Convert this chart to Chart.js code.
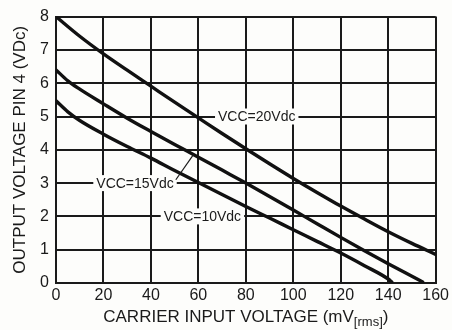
<!DOCTYPE html>
<html>
<head>
<meta charset="utf-8">
<script src="https://cdn.jsdelivr.net/npm/chart.js@4/dist/chart.umd.min.js"></script>
<style>
  html, body { margin: 0; padding: 0; background: #fdfdfb; }
  #wrap { width: 452px; height: 330px; }
</style>
</head>
<body>
<div id="wrap"><canvas id="c" width="452" height="330"></canvas></div>
<script>
// Carrier input voltage (mV rms) and output voltage at pin 4 (Vdc)
const xTicks = [0, 20, 40, 60, 80, 100, 120, 140, 160];
const yTicks = [0, 1, 2, 3, 4, 5, 6, 7, 8];

const vcc20X = [0, 10, 20, 30, 40, 50, 60, 70, 80, 90, 100, 110, 120, 130, 140, 150, 160];
const vcc20Y = [8.0, 7.41, 6.88, 6.39, 5.91, 5.43, 4.96, 4.49, 4.03, 3.58, 3.14, 2.72, 2.31, 1.92, 1.54, 1.19, 0.86];

const vcc15X = [0, 5, 10, 20, 30, 40, 50, 60, 70, 80, 90, 100, 110, 120, 130, 140, 150, 154.5];
const vcc15Y = [6.4, 6.07, 5.82, 5.38, 4.95, 4.55, 4.16, 3.78, 3.39, 3.0, 2.6, 2.19, 1.78, 1.37, 0.97, 0.58, 0.2, 0.03];

const vcc10X = [0, 5, 10, 20, 30, 40, 50, 60, 70, 80, 90, 100, 110, 120, 130, 140, 141.5];
const vcc10Y = [5.47, 5.14, 4.88, 4.47, 4.1, 3.75, 3.38, 3.02, 2.66, 2.3, 1.95, 1.6, 1.25, 0.9, 0.52, 0.12, 0.03];

const seriesNames = ['VCC=20Vdc', 'VCC=15Vdc', 'VCC=10Vdc'];

const toPoints = (xs, ys) => xs.map((x, i) => ({ x: x, y: ys[i] }));

const INK = '#1a1a1a';
const FONT = '"Liberation Sans", Arial, Helvetica, sans-serif';

// Curve captions, anchored in data coordinates on a grid line
const captions = [
  { text: seriesNames[0], x: 84.6, y: 5 },
  { text: seriesNames[1], x: 33.3, y: 3, leader: [50.5, 3.1, 58.0, 3.86] },
  { text: seriesNames[2], x: 61.7, y: 2 }
];

const annotate = {
  id: 'annotate',
  afterDatasetsDraw(chart) {
    const ctx = chart.ctx;
    const xs = chart.scales.x, ys = chart.scales.y;
    const area = chart.chartArea;
    ctx.save();
    // captions with white boxes that interrupt the grid
    ctx.font = '14px ' + FONT;
    ctx.textAlign = 'center';
    ctx.textBaseline = 'middle';
    captions.forEach(c => {
      const px = xs.getPixelForValue(c.x);
      const py = ys.getPixelForValue(c.y);
      const w = ctx.measureText(c.text).width;
      ctx.fillStyle = '#fdfdfb';
      ctx.fillRect(px - w / 2 - 3, py - 8, w + 6, 16);
      ctx.fillStyle = INK;
      ctx.fillText(c.text, px, py + 1);
      if (c.leader) {
        ctx.strokeStyle = INK;
        ctx.lineWidth = 1.2;
        ctx.beginPath();
        ctx.moveTo(xs.getPixelForValue(c.leader[0]), ys.getPixelForValue(c.leader[1]));
        ctx.lineTo(xs.getPixelForValue(c.leader[2]), ys.getPixelForValue(c.leader[3]));
        ctx.stroke();
      }
    });

    // axis titles
    ctx.fillStyle = INK;
    const cx = (area.left + area.right) / 2;
    const main = 'CARRIER INPUT VOLTAGE (mV';
    const sub = '[rms]';
    const tail = ')';
    ctx.font = '17px ' + FONT;
    const wMain = ctx.measureText(main).width;
    const wTail = ctx.measureText(tail).width;
    ctx.font = '13px ' + FONT;
    const wSub = ctx.measureText(sub).width;
    let sx = cx - (wMain + wSub + wTail) / 2;
    const ty = 317;
    ctx.textAlign = 'left';
    ctx.textBaseline = 'middle';
    ctx.font = '17px ' + FONT;
    ctx.fillText(main, sx, ty);
    sx += wMain;
    ctx.font = '13px ' + FONT;
    ctx.fillText(sub, sx, ty + 5);
    sx += wSub;
    ctx.font = '17px ' + FONT;
    ctx.fillText(tail, sx, ty);

    ctx.translate(20, (area.top + area.bottom) / 2);
    ctx.rotate(-Math.PI / 2);
    ctx.textAlign = 'center';
    ctx.fillText('OUTPUT VOLTAGE PIN 4 (VDc)', 0, 0);
    ctx.restore();
  }
};

const lineStyle = {
  borderColor: '#111',
  borderWidth: 3.4,
  pointRadius: 0,
  fill: false,
  cubicInterpolationMode: 'monotone',
  borderCapStyle: 'round'
};

new Chart(document.getElementById('c'), {
  type: 'line',
  data: {
    datasets: [
      Object.assign({ label: seriesNames[0], data: toPoints(vcc20X, vcc20Y) }, lineStyle),
      Object.assign({ label: seriesNames[1], data: toPoints(vcc15X, vcc15Y) }, lineStyle),
      Object.assign({ label: seriesNames[2], data: toPoints(vcc10X, vcc10Y) }, lineStyle)
    ]
  },
  options: {
    responsive: false,
    animation: false,
    layout: { padding: { top: 10, right: 16, left: 0, bottom: 0 } },
    plugins: { legend: { display: false }, tooltip: { enabled: false } },
    scales: {
      x: {
        type: 'linear',
        min: xTicks[0],
        max: xTicks[xTicks.length - 1],
        afterBuildTicks: s => { s.ticks = xTicks.map(v => ({ value: v })); },
        afterFit: s => { s.height = 47; },
        ticks: { color: INK, font: { family: FONT, size: 16 }, padding: 3, maxRotation: 0 },
        grid: { color: INK, lineWidth: 2, drawTicks: false },
        border: { color: INK, width: 2 }
      },
      y: {
        type: 'linear',
        min: yTicks[0],
        max: yTicks[yTicks.length - 1],
        afterBuildTicks: s => { s.ticks = yTicks.map(v => ({ value: v })); },
        afterFit: s => { s.width = 56; },
        ticks: { color: INK, font: { family: FONT, size: 16 }, padding: 7 },
        grid: { color: INK, lineWidth: 2, drawTicks: false },
        border: { color: INK, width: 2 }
      }
    }
  },
  plugins: [annotate]
});
</script>
</body>
</html>
